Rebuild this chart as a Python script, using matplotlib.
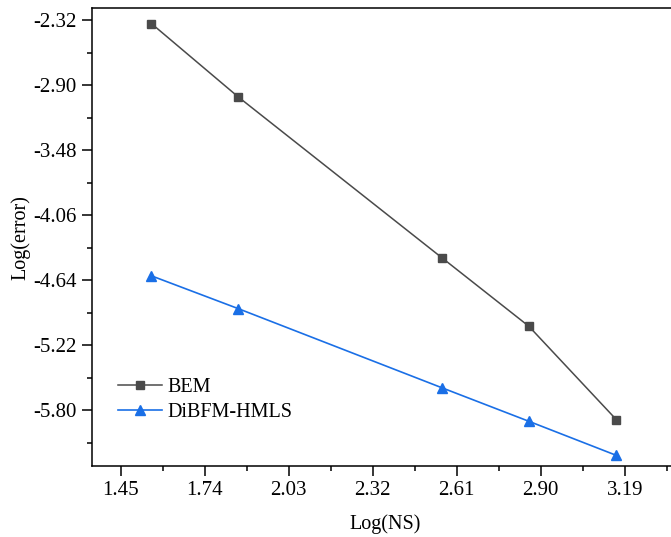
import matplotlib
matplotlib.use("Agg")
import matplotlib.pyplot as plt
from matplotlib.ticker import FixedLocator, FormatStrFormatter

log_ns = [1.556, 1.856, 2.558, 2.859, 3.161]
bem = [-2.349, -3.004, -4.437, -5.050, -5.883]
dibfm = [-4.600, -4.893, -5.598, -5.898, -6.202]

x_ticks = [1.45, 1.74, 2.03, 2.32, 2.61, 2.90, 3.19]
y_ticks = [-2.32, -2.90, -3.48, -4.06, -4.64, -5.22, -5.80]

plt.rcParams['font.family'] = ['Liberation Serif', 'DejaVu Serif']

fig = plt.figure(figsize=(6.71, 5.37), dpi=100)
ax = fig.add_axes([91.7/671, 1-466/537, 586.6/671, (466-8.3)/537])

ax.plot(log_ns, bem, color='#4a4a4a', lw=1.1, marker='s', ms=5.2,
        markerfacecolor='#4a4a4a', markeredgecolor='#4a4a4a', label='BEM')
ax.plot(log_ns, dibfm, color='#1a6fe6', lw=1.2, marker='^', ms=6.5,
        markerfacecolor='#1a6fe6', markeredgecolor='#1a6fe6', label='DiBFM-HMLS')

ax.set_xlim(1.35, 3.375)
ax.set_ylim(-6.297, -2.213)

ax.xaxis.set_major_locator(FixedLocator(x_ticks))
ax.yaxis.set_major_locator(FixedLocator(y_ticks))
ax.xaxis.set_minor_locator(FixedLocator([t + 0.145 for t in [1.16] + x_ticks]))
ax.yaxis.set_minor_locator(FixedLocator([t - 0.29 for t in [-1.74] + y_ticks]))
ax.xaxis.set_major_formatter(FormatStrFormatter('%.2f'))
ax.yaxis.set_major_formatter(FormatStrFormatter('%.2f'))

ax.tick_params(which='major', direction='out', length=7, width=1.1, labelsize=15, pad=4)
ax.tick_params(which='minor', direction='out', length=3.5, width=1.1)
for s in ax.spines.values():
    s.set_linewidth(1.1)
ax.spines['right'].set_visible(False)

ax.set_xlabel('Log(NS)', fontsize=14.5, labelpad=10)
ax.set_ylabel('Log(error)', fontsize=14.5, labelpad=2)

leg = ax.legend(loc='center left', bbox_to_anchor=(0.0448, 0.145), frameon=False,
                fontsize=14.5, handlelength=2.2, labelspacing=0.3,
                handletextpad=0.25, borderpad=0, borderaxespad=0)

fig.savefig('out.png', dpi=100)
